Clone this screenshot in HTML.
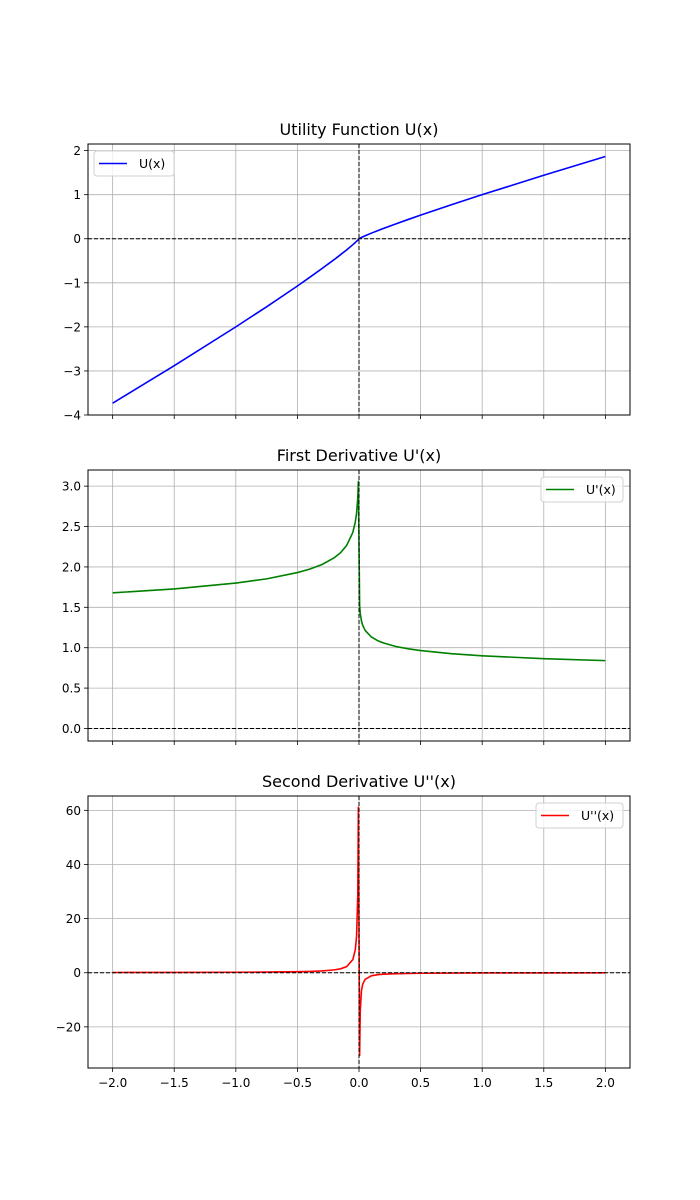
<!DOCTYPE html>
<html><head><meta charset="utf-8">
<style>
html,body{margin:0;padding:0;background:#fff;}
svg{display:block;font-family:"DejaVu Sans","Liberation Sans",sans-serif;}
</style></head>
<body>
<svg id="chart" width="700" height="1200" xmlns="http://www.w3.org/2000/svg"></svg>
<script>
// ---- data ----
const xValues = [-2,-1.5,-1,-0.75,-0.5,-0.4,-0.3,-0.2,-0.15,-0.1,-0.05,-0.03,-0.02,-0.01,-0.005,
                 0.005,0.01,0.02,0.03,0.05,0.1,0.15,0.2,0.3,0.4,0.5,0.75,1,1.5,2];
const uValues = [-3.732,-2.880,-2,-1.544,-1.072,-0.876,-0.676,-0.470,-0.362,-0.252,-0.135,-0.085,-0.059,-0.032,-0.017,
                 0.0085,0.0158,0.0296,0.0426,0.0675,0.126,0.181,0.235,0.338,0.438,0.536,0.772,1,1.440,1.866];
const du1Values = [1.679,1.728,1.8,1.852,1.930,1.973,2.030,2.115,2.176,2.266,2.428,2.556,2.662,2.853,3.058,
                   1.529,1.427,1.331,1.278,1.214,1.133,1.088,1.058,1.015,0.986,0.965,0.926,0.9,0.864,0.840];
const du2Values = [0.084,0.115,0.18,0.247,0.386,0.493,0.677,1.057,1.451,2.266,4.856,8.51,13.30,28.53,61.15,
                   -30.57,-14.27,-6.65,-4.26,-2.43,-1.133,-0.725,-0.528,-0.338,-0.247,-0.193,-0.123,-0.09,-0.058,-0.042];
const xTicks = [-2,-1.5,-1,-0.5,0,0.5,1,1.5,2];
const xTickLabels = ["\u22122.0","\u22121.5","\u22121.0","\u22120.5","0.0","0.5","1.0","1.5","2.0"];
const yTicks1 = [-4,-3,-2,-1,0,1,2];
const yTickLabels1 = ["\u22124","\u22123","\u22122","\u22121","0","1","2"];
const yTicks2 = [0,0.5,1,1.5,2,2.5,3];
const yTickLabels2 = ["0.0","0.5","1.0","1.5","2.0","2.5","3.0"];
const yTicks3 = [-20,0,20,40,60];
const yTickLabels3 = ["\u221220","0","20","40","60"];

const NS="http://www.w3.org/2000/svg";
const svg=document.getElementById('chart');
function mk(tag,attrs,parent){const e=document.createElementNS(NS,tag);for(const k in attrs)e.setAttribute(k,attrs[k]);(parent||svg).appendChild(e);return e;}

const L=88,R=630;
const xMin=-2.2,xMax=2.2;
function xs(v){return L+(v-xMin)/(xMax-xMin)*(R-L);}

const panels=[
 {name:'utility',top:144,bot:415,yMin:-4.0,yMax:2.15,ys:uValues,ticks:yTicks1,labels:yTickLabels1,color:'#0000ff',
  title:'Utility Function U(x)',leg:'U(x)',legLeft:true,showX:false},
 {name:'first-derivative',top:470,bot:741,yMin:-0.155,yMax:3.2,ys:du1Values,ticks:yTicks2,labels:yTickLabels2,color:'#008000',
  title:"First Derivative U'(x)",leg:"U'(x)",legLeft:false,showX:false},
 {name:'second-derivative',top:796,bot:1068,yMin:-35.2,yMax:65.3,ys:du2Values,ticks:yTicks3,labels:yTickLabels3,color:'#ff0000',
  title:"Second Derivative U''(x)",leg:"U''(x)",legLeft:false,showX:true}
];

panels.forEach(p=>{
  const g=mk('g',{});
  
  
  const ys=v=>p.bot-(v-p.yMin)/(p.yMax-p.yMin)*(p.bot-p.top);
  xTicks.forEach((t,i)=>{
    const gl=mk('line',{x1:xs(t),x2:xs(t),y1:p.top,y2:p.bot,stroke:'#b0b0b0','stroke-width':0.8},g);
    
    
    mk('line',{x1:xs(t),x2:xs(t),y1:p.bot,y2:p.bot+4,stroke:'#000','stroke-width':0.8},g);
    if(p.showX){
      const tx=mk('text',{x:xs(t),y:p.bot+19,'text-anchor':'middle','font-size':12,fill:'#000'},g);
      tx.textContent=xTickLabels[i];
      
      
    }
  });
  p.ticks.forEach((t,i)=>{
    const gl=mk('line',{x1:L,x2:R,y1:ys(t),y2:ys(t),stroke:'#b0b0b0','stroke-width':0.8},g);
    
    
    mk('line',{x1:L-4,x2:L,y1:ys(t),y2:ys(t),stroke:'#000','stroke-width':0.8},g);
    const tx=mk('text',{x:L-7,y:ys(t)+4.5,'text-anchor':'end','font-size':12,fill:'#000'},g);
    tx.textContent=p.labels[i];
    
    
  });
  let d='';
  xValues.forEach((x,i)=>{d+=(i?'L':'M')+xs(x).toFixed(2)+','+ys(p.ys[i]).toFixed(2);});
  const path=mk('path',{d:d,fill:'none',stroke:p.color,'stroke-width':1.6,'stroke-linejoin':'round'},g);
  
  
  const hz=mk('line',{x1:L,x2:R,y1:ys(0),y2:ys(0),stroke:'#000','stroke-width':1,'stroke-dasharray':'4,2'},g);
  
  
  const vz=mk('line',{x1:xs(0),x2:xs(0),y1:p.top,y2:p.bot,stroke:'#000','stroke-width':1,'stroke-dasharray':'4,2'},g);
  
  
  const fr=mk('rect',{x:L,y:p.top,width:R-L,height:p.bot-p.top,fill:'none',stroke:'#000','stroke-width':1},g);
  
  
  const ti=mk('text',{x:(L+R)/2,y:p.top-9,'text-anchor':'middle','font-size':16,fill:'#000'},g);
  ti.textContent=p.title;
  
  
  const lw=p.legLeft?80:(p.leg.length>5?87:82);
  const lx=p.legLeft?L+6:R-7-lw, ly=p.top+7;
  const lg=mk('g',{},g);
  
  
  mk('rect',{x:lx,y:ly,width:lw,height:25,rx:3,fill:'#fff','fill-opacity':0.8,stroke:'#d0d0d0','stroke-width':1},lg);
  mk('line',{x1:lx+5,x2:lx+33,y1:ly+12.5,y2:ly+12.5,stroke:p.color,'stroke-width':1.6},lg);
  const lt=mk('text',{x:lx+45,y:ly+17,'font-size':12.5,fill:'#000'},lg);
  lt.textContent=p.leg;
  
  
});
</script>
</body></html>
